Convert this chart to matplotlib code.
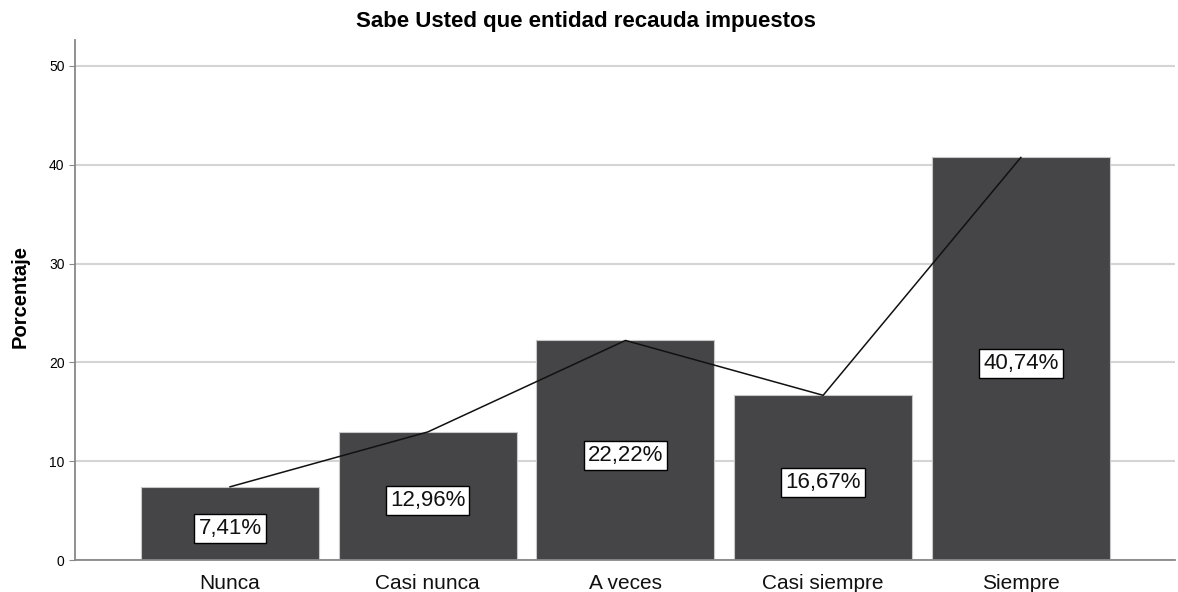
import numpy as np
import matplotlib.pyplot as plt

plt.rcParams['font.family'] = ['Liberation Sans', 'DejaVu Sans']

categories = ["Nunca", "Casi nunca", "A veces", "Casi siempre", "Siempre"]
percentages = [7.41, 12.96, 22.22, 16.67, 40.74]
yticks = [0, 10, 20, 30, 40, 50]

fig = plt.figure(figsize=(11.78, 5.92), dpi=100)
ax = fig.add_axes([0.0637, 0.054, 0.9338, 0.878])

x = np.arange(len(categories))
ax.bar(x, percentages, width=0.9, color="#454547", edgecolor="#c8c8c8",
       linewidth=0.8, zorder=2)
ax.plot(x, percentages, color="#111111", linewidth=1.1, zorder=3)

for xi, v in zip(x, percentages):
    ax.text(xi, v / 2 - 0.5, f"{v:.2f}%".replace(".", ","), ha="center",
            va="center", fontsize=16, color="#111111", zorder=4,
            bbox=dict(boxstyle="square,pad=0.18", facecolor="white",
                      edgecolor="black", linewidth=1))

ax.set_xlim(-0.784, 4.78)
ax.set_ylim(0, 52.6)
ax.set_yticks(yticks)
ax.set_xticks(x)
ax.set_xticklabels(categories, fontsize=15, color="#111111")
ax.tick_params(axis="y", labelsize=10, length=4, color="#888888")
ax.tick_params(axis="x", length=0, pad=10)
ax.yaxis.grid(True, color="#d4d4d4", linewidth=1.5, zorder=0)
ax.set_axisbelow(True)

for side in ("top", "right"):
    ax.spines[side].set_visible(False)
for side in ("left", "bottom"):
    ax.spines[side].set_color("#888888")
    ax.spines[side].set_linewidth(1.3)

fig.text(20 / 1178, 0.5, "Porcentaje", rotation=90, ha="center", va="center",
         fontsize=14.5, fontweight="bold")
fig.text(0.4975, 1 - 22 / 592, "Sabe Usted que entidad recauda impuestos",
         ha="center", va="center", fontsize=16, fontweight="bold")

fig.savefig("out.png", dpi=100)
